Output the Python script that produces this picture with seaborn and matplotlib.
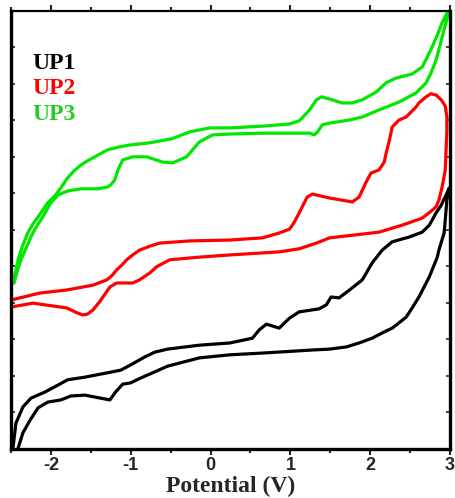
import numpy as np
import pandas as pd
import matplotlib
matplotlib.use("Agg")
import matplotlib.pyplot as plt
import seaborn as sns

# Cyclic voltammograms: potential (V) and current (arb. units), one closed loop per sample
up1_potential = [-2.475, -2.4375, -2.35, -2.25, -2.075, -1.91, -1.79, -1.575, -1.29, -1.125,
                 -1.0, -0.825, -0.70, -0.54, -0.14, 0.24, 0.525, 0.61, 0.70, 0.86,
                 0.99, 1.11, 1.36, 1.45, 1.51, 1.61, 1.74, 1.90, 2.025, 2.15,
                 2.275, 2.49, 2.65, 2.74, 2.825, 2.89, 2.95, 2.99,
                 2.96, 2.94, 2.925, 2.86, 2.84, 2.74, 2.61, 2.525, 2.45, 2.36,
                 2.275, 2.15, 2.025, 1.86, 1.70, 1.49, 1.275, 0.65, 0.24, -0.14,
                 -0.54, -0.70, -0.875, -1.0, -1.10, -1.19, -1.26, -1.375, -1.575, -1.75,
                 -1.875, -2.04, -2.16, -2.26, -2.35, -2.41]
up1_current = [0.02, 0.59, 0.96, 1.16, 1.30, 1.46, 1.58, 1.64, 1.74, 1.80,
               1.92, 2.10, 2.21, 2.28, 2.37, 2.42, 2.53, 2.72, 2.85, 2.76,
               2.99, 3.13, 3.20, 3.29, 3.47, 3.45, 3.63, 3.86, 4.25, 4.54,
               4.73, 4.84, 4.95, 5.11, 5.39, 5.57, 5.80, 5.96,
               5.68, 5.23, 4.93, 4.54, 4.38, 3.93, 3.47, 3.22, 3.01, 2.88,
               2.76, 2.65, 2.53, 2.42, 2.33, 2.28, 2.26, 2.19, 2.15, 2.08,
               1.89, 1.76, 1.62, 1.51, 1.48, 1.30, 1.12, 1.16, 1.23, 1.21,
               1.12, 1.07, 0.94, 0.66, 0.37, 0.02]

up2_potential = [-2.50, -2.14, -1.80, -1.475, -1.30, -1.24, -1.175, -1.11, -1.05, -0.975,
                 -0.89, -0.76, -0.64, -0.26, 0.24, 0.65, 0.86, 0.99, 1.05, 1.11,
                 1.21, 1.275, 1.49, 1.775, 1.86, 1.95, 2.01, 2.11, 2.175, 2.20,
                 2.24, 2.275, 2.36, 2.45, 2.575, 2.61, 2.70, 2.76, 2.825, 2.89,
                 2.94, 2.96,
                 2.96, 2.95, 2.94, 2.90, 2.86, 2.825, 2.75, 2.65, 2.40, 2.11,
                 1.825, 1.49, 1.325, 1.11, 0.86, 0.24, -0.14, -0.51, -0.675, -0.76,
                 -0.89, -0.975, -1.175, -1.26, -1.39, -1.475, -1.54, -1.60, -1.675, -1.80,
                 -2.225, -2.50]
up2_current = [3.40, 3.56, 3.63, 3.74, 3.86, 3.95, 4.09, 4.20, 4.32, 4.43,
               4.54, 4.63, 4.70, 4.75, 4.77, 4.82, 4.93, 5.02, 5.18, 5.39,
               5.75, 5.82, 5.73, 5.64, 5.75, 6.10, 6.30, 6.37, 6.55, 6.76,
               7.05, 7.35, 7.51, 7.58, 7.81, 7.90, 8.04, 8.11, 8.08, 7.97,
               7.83, 7.58,
               7.28, 6.83, 6.37, 5.98, 5.68, 5.53, 5.41, 5.27, 5.11, 4.95,
               4.89, 4.82, 4.70, 4.57, 4.50, 4.43, 4.38, 4.32, 4.16, 4.02,
               3.86, 3.79, 3.79, 3.70, 3.36, 3.17, 3.08, 3.06, 3.11, 3.22,
               3.33, 3.24]

up3_potential = [-2.475, -2.4375, -2.41, -2.36, -2.29, -2.225, -2.16, -2.10, -2.04, -1.94,
                 -1.86, -1.79, -1.71, -1.625, -1.54, -1.45, -1.29, -1.16, -1.01, -0.76,
                 -0.49, -0.26, -0.01, 0.24, 0.65, 0.99, 1.11, 1.24, 1.325, 1.39,
                 1.49, 1.65, 1.775, 1.90, 2.075, 2.20, 2.325, 2.525, 2.65, 2.71,
                 2.775, 2.84, 2.90, 2.96, 2.99,
                 2.975, 2.925, 2.875, 2.825, 2.76, 2.70, 2.575, 2.36, 2.11, 1.90,
                 1.74, 1.49, 1.40, 1.34, 1.30, 1.24, 0.99, 0.65, 0.24, 0.025,
                 -0.14, -0.30, -0.475, -0.60, -0.80, -0.975, -1.10, -1.16, -1.20, -1.25,
                 -1.29, -1.41, -1.625, -1.79, -1.91, -2.0, -2.06, -2.125, -2.19, -2.25,
                 -2.31, -2.375, -2.425, -2.46]
up3_current = [3.79, 4.09, 4.32, 4.61, 4.93, 5.14, 5.30, 5.46, 5.62, 5.80,
               6.00, 6.19, 6.35, 6.48, 6.58, 6.67, 6.83, 6.89, 6.94, 6.99,
               7.08, 7.24, 7.33, 7.33, 7.37, 7.42, 7.49, 7.74, 7.97, 8.04,
               7.99, 7.90, 7.90, 7.97, 8.15, 8.36, 8.47, 8.56, 8.72, 8.93,
               9.18, 9.45, 9.73, 9.95, 10.0,
               9.91, 9.57, 9.22, 8.88, 8.58, 8.36, 8.13, 7.92, 7.74, 7.58,
               7.51, 7.44, 7.40, 7.24, 7.17, 7.21, 7.21, 7.21, 7.19, 7.17,
               7.01, 6.67, 6.53, 6.55, 6.67, 6.67, 6.60, 6.37, 6.14, 6.03,
               5.98, 5.94, 5.94, 5.89, 5.80, 5.62, 5.43, 5.23, 5.05, 4.84,
               4.59, 4.32, 4.04, 3.79]

sample_names = ["UP1", "UP2", "UP3"]
line_colors = {"UP1": "#000000", "UP2": "#ff0000", "UP3": "#00e800"}
label_colors = {"UP1": "#000000", "UP2": "#ff0000", "UP3": "#22cc22"}

frames = []
for name, pot, cur in zip(sample_names,
                          [up1_potential, up2_potential, up3_potential],
                          [up1_current, up2_current, up3_current]):
    frames.append(pd.DataFrame({"potential": pot, "current": cur, "sample": name}))
df = pd.concat(frames, ignore_index=True)

sns.set_theme(style="ticks")
plt.rcParams["font.family"] = ["Liberation Sans", "DejaVu Sans"]
plt.rcParams["axes.unicode_minus"] = False

fig = plt.figure(figsize=(4.56, 4.98), dpi=100)
ax = fig.add_axes([0.024, 0.0984, 0.963, 0.8796])

sns.lineplot(data=df, x="potential", y="current", hue="sample", palette=line_colors,
             sort=False, estimator=None, legend=False, linewidth=2.3, ax=ax)
for line in ax.get_lines():
    line.set_solid_joinstyle("round")
    line.set_solid_capstyle("round")

ax.set_xlim(-2.5, 3.0)
ax.set_ylim(0, 10)
ax.set_xticks([-2, -1, 0, 1, 2, 3])
ax.set_xticks(np.arange(-2.5, 3.01, 0.5), minor=True)
ax.set_yticks(np.linspace(0, 10, 13))
ax.set_yticklabels([])
ax.set_ylabel("")

for side, lw in [("left", 2.4), ("bottom", 2.4), ("right", 2.4), ("top", 1.6)]:
    ax.spines[side].set_visible(True)
    ax.spines[side].set_linewidth(lw)
    ax.spines[side].set_color("black")

ax.tick_params(axis="x", which="major", direction="out", length=4, width=1.5,
               pad=2, labelsize=13, top=True)
ax.tick_params(axis="x", which="minor", direction="out", length=3, width=1.5, top=True)
ax.tick_params(axis="y", which="major", direction="in", length=3, width=1.2,
               left=True, right=True)
for lab in ax.get_xticklabels():
    lab.set_fontweight("bold")
    lab.set_family(["Liberation Sans", "DejaVu Sans"])

ax.set_xlabel("Potential (V)", fontsize=17, fontweight="bold",
              family=["Liberation Serif", "DejaVu Serif"], labelpad=1)

for i, name in enumerate(sample_names):
    ax.text(0.048, 0.881 - i * 0.0585, name, transform=ax.transAxes,
            color=label_colors[name], fontsize=17, fontweight="bold",
            family=["Liberation Serif", "DejaVu Serif"], va="center", ha="left")

fig.savefig("out.png", dpi=100)
